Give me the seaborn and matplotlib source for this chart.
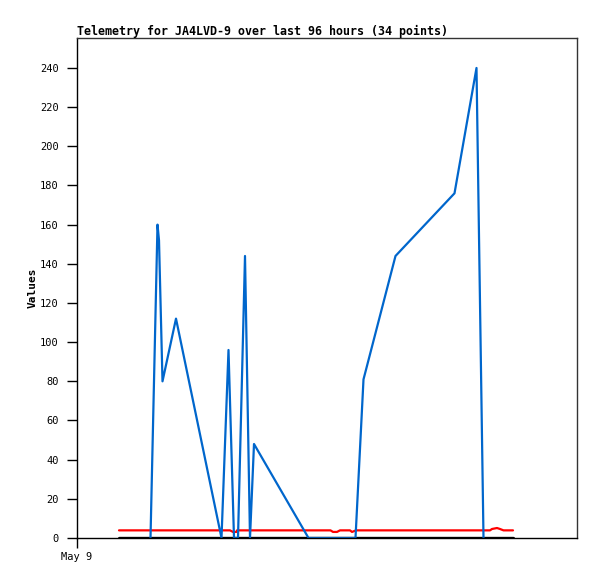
import matplotlib
matplotlib.use("Agg")
import matplotlib.pyplot as plt
import seaborn as sns
import pandas as pd

# hours since May 9 00:00 (approximate)
blue_hours = [14.7, 16.1, 16.4, 17.1, 19.8, 28.9, 30.3, 31.4, 32.2, 33.6, 34.6,
              35.4, 46.3, 55.7, 57.3, 63.7, 75.5, 79.9, 81.3]
blue_vals = [0, 160, 152, 80, 112, 0, 96, 0, 0, 144, 0,
             48, 0, 0, 81, 144, 176, 240, 0]

red_hours = [8.4, 30.6, 31.2, 31.9, 32.0, 50.7, 51.2, 52.0, 52.6, 54.6, 55.0,
             55.8, 82.6, 83.0, 84.0, 84.6, 85.3, 87.2]
red_vals = [3.9, 3.9, 3.1, 3.1, 3.9, 3.9, 3.1, 3.1, 3.9, 3.9, 3.1,
            3.9, 3.9, 4.6, 5.1, 4.6, 3.9, 3.9]

black_hours = [8.4, 87.2]
black_vals = [0, 0]

title = "Telemetry for JA4LVD-9 over last 96 hours (34 points)"
yticks = list(range(0, 241, 20))

sns.set_style("white")
plt.rcParams['font.family'] = ['DejaVu Sans Mono', 'DejaVu Sans']
plt.rcParams['text.color'] = 'black'
plt.rcParams['axes.labelcolor'] = 'black'
plt.rcParams['xtick.color'] = 'black'
plt.rcParams['ytick.color'] = 'black'

fig = plt.figure(figsize=(5.97, 5.79), dpi=100)
ax = fig.add_axes([77/597, 41/579, 500/597, 500/579])

sns.lineplot(x=black_hours, y=black_vals, ax=ax, color='black', linewidth=2.4)
sns.lineplot(x=red_hours, y=red_vals, ax=ax, color='#ff0000', linewidth=1.6)
sns.lineplot(x=blue_hours, y=blue_vals, ax=ax, color='#0066cc', linewidth=1.6)

ax.set_xlim(0, 100)
ax.set_ylim(0, 255.3)
ax.set_yticks(yticks)
ax.set_yticklabels([str(v) for v in yticks])
ax.set_xticks([0])
ax.set_xticklabels(["May 9"])
ax.tick_params(axis='both', direction='out', length=7, width=1, color='black',
               labelsize=7.5, labelcolor='black', left=True, bottom=True)
ax.tick_params(axis='y', pad=6)
ax.tick_params(axis='x', pad=3)

for s in ax.spines.values():
    s.set_visible(True)
    s.set_color('#333333')
    s.set_linewidth(1)
ax.spines['left'].set_color('black')
ax.spines['bottom'].set_color('black')

ax.set_ylabel("Values", fontsize=8, fontweight='bold', labelpad=2, color='black')
ax.set_xlabel("")
ax.set_title(title, loc='left', fontsize=8.4, fontweight='bold', pad=2, color='black')

fig.savefig("out.png", dpi=100)
